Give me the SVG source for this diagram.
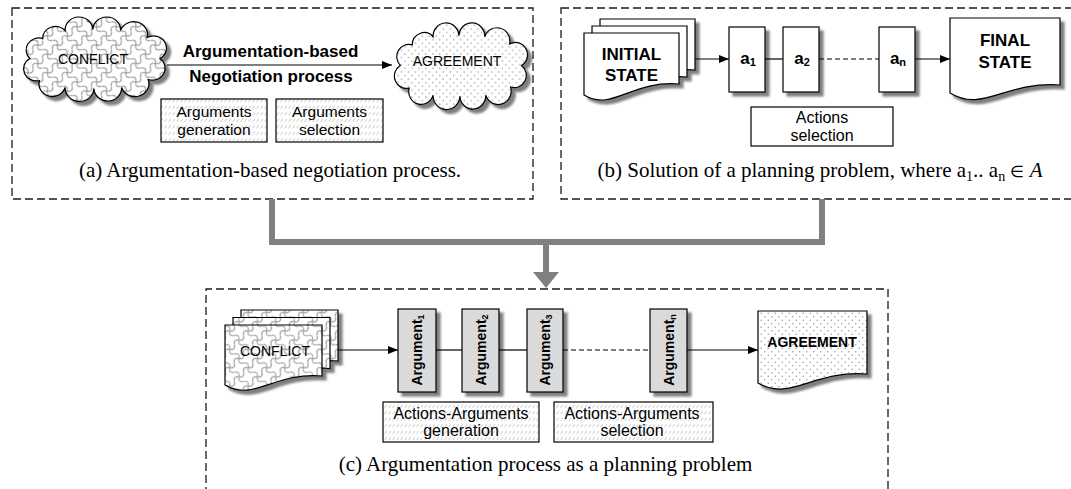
<svg xmlns="http://www.w3.org/2000/svg" width="1071" height="489" viewBox="0 0 1071 489">
<style>
.bd{fill:none;stroke:#1a1a1a;stroke-width:1.3;stroke-dasharray:8 4}
.ln{stroke:#000;stroke-width:1.2;fill:none}
.dl{stroke-dasharray:5 3}
.ar{marker-end:url(#ah)}
.bx{stroke:#000;stroke-width:1.2}
.t{font-family:"Liberation Sans",Arial,sans-serif;fill:#000}
.b{font-weight:bold}
.cap{font-family:"Liberation Serif","Times New Roman",serif;font-size:21px;fill:#000}
.gc{stroke:#808080;stroke-width:6;fill:none}
</style>
<defs>
<marker id="ah" markerUnits="userSpaceOnUse" markerWidth="10" markerHeight="8" refX="10" refY="4" orient="auto"><path d="M0,0 L10,4 L0,8 Z" fill="#000"/></marker>
<filter id="sh" x="-10%" y="-10%" width="130%" height="140%">
<feGaussianBlur in="SourceAlpha" stdDeviation="1.2" result="b"/>
<feOffset in="b" dx="4" dy="4" result="o"/>
<feFlood flood-color="#000" flood-opacity="0.5"/>
<feComposite in2="o" operator="in" result="s"/>
<feMerge><feMergeNode in="s"/><feMergeNode in="SourceGraphic"/></feMerge>
</filter>
<pattern id="diag" width="4" height="6.5" patternUnits="userSpaceOnUse">
<rect width="4" height="6.5" fill="#fff"/>
<path d="M0.6,4.8 L2.8,1.8" stroke="#b8b8b8" stroke-width="0.8"/>
</pattern>
<pattern id="dots" width="7" height="7" patternUnits="userSpaceOnUse">
<rect width="7" height="7" fill="#fff"/>
<circle cx="1.75" cy="1.75" r="0.75" fill="#999"/>
<circle cx="5.25" cy="5.25" r="0.75" fill="#999"/>
</pattern>
<pattern id="wave" width="13" height="13" patternUnits="userSpaceOnUse" patternTransform="rotate(45)">
<rect width="13" height="13" fill="#fff"/>
<path d="M0,6.5 Q3.25,1.5 6.5,6.5 T13,6.5 M6.5,0 Q11.5,3.25 6.5,6.5 T6.5,13" stroke="#9a9a9a" stroke-width="1.1" fill="none"/>
</pattern>
<path id="cloud" d="M20,63 A12,12 0 0 1 11,41 A12,12 0 0 1 23,21 A12,12 0 0 1 44,13 A13,13 0 0 1 70,12 A13,13 0 0 1 96,13 A13,13 0 0 1 121,20 A12,12 0 0 1 133,41 A12,12 0 0 1 122,62 A13,13 0 0 1 97,70 A13,13 0 0 1 71,71 A13,13 0 0 1 44,70 A12,12 0 0 1 20,63 Z"/>
</defs>

<g id="panels">
<rect class="bd" x="12" y="8" width="521" height="191"/>
<rect class="bd" x="561" y="8" width="520" height="191"/>
<path class="bd" d="M206,495 V289 H888 V495"/>
</g>

<g id="connectors">
<path class="ln ar" d="M167,65 H392"/>
<path class="ln ar" d="M695,59 H729"/>
<path class="ln" d="M765,59 H783"/>
<path class="ln dl" d="M819,59 H879"/>
<path class="ln ar" d="M915,59 H950"/>
<path class="ln ar" d="M338,350 H398"/>
<path class="ln" d="M436,350 H462"/>
<path class="ln" d="M499,350 H527"/>
<path class="ln dl" d="M563,350 H650"/>
<path class="ln ar" d="M687,350 H758"/>
<path class="gc" d="M272,199 V242 H822 V199"/>
<path class="gc" d="M546,242 V273"/>
<polygon points="533,272 559,272 546,288" fill="#808080"/>
</g>

<g id="conflict-cloud">
<use href="#cloud" transform="translate(18.2,17.5) scale(1.066,1)" fill="url(#wave)" stroke="#000" stroke-width="1.2" filter="url(#sh)"/>
<text class="t" x="93" y="64" font-size="14" text-anchor="middle">CONFLICT</text>
</g>

<g id="process-label">
<text class="t b" x="270.5" y="57" font-size="17" text-anchor="middle">Argumentation-based</text>
<text class="t b" x="271" y="82" font-size="17" text-anchor="middle">Negotiation process</text>
</g>

<g id="agreement-cloud">
<use href="#cloud" transform="translate(389.4,23.5) scale(0.993,1.024)" fill="url(#dots)" stroke="#000" stroke-width="1.2" filter="url(#sh)"/>
<text class="t" x="457" y="66" font-size="14" text-anchor="middle">AGREEMENT</text>
</g>

<g id="args-generation">
<rect class="bx" x="161" y="99" width="106" height="43" fill="url(#diag)"/>
<text class="t" x="214" y="117" font-size="15.5" text-anchor="middle">Arguments</text>
<text class="t" x="214" y="135" font-size="15.5" text-anchor="middle">generation</text>
</g>

<g id="args-selection">
<rect class="bx" x="276" y="99" width="107" height="43" fill="url(#diag)"/>
<text class="t" x="329.5" y="117" font-size="15.5" text-anchor="middle">Arguments</text>
<text class="t" x="329.5" y="135" font-size="15.5" text-anchor="middle">selection</text>
</g>

<g id="caption-a">
<text class="cap" x="270" y="177" text-anchor="middle">(a) Argumentation-based negotiation process.</text>
</g>

<g id="initial-state">
<g filter="url(#sh)" fill="#fff" stroke="#000" stroke-width="1.2">
<path d="M600,19 H695 V70 C647.5,66 628.5,98 600,81 Z"/>
<path d="M592,26 H687 V77 C639.5,73 620.5,105 592,88 Z"/>
<path d="M584,33 H679 V84 C631.5,80 612.5,112 584,95 Z"/>
</g>
<text class="t b" x="631.5" y="59.5" font-size="17" text-anchor="middle">INITIAL</text>
<text class="t b" x="631.5" y="81" font-size="17" text-anchor="middle">STATE</text>
</g>

<g id="a1">
<rect class="bx" x="729" y="27" width="36" height="65" fill="#fff" filter="url(#sh)"/>
<text class="t b" x="748" y="64" font-size="17" text-anchor="middle">a<tspan font-size="11" dy="2">1</tspan></text>
</g>
<g id="a2">
<rect class="bx" x="783" y="27" width="36" height="65" fill="#fff" filter="url(#sh)"/>
<text class="t b" x="802" y="64" font-size="17" text-anchor="middle">a<tspan font-size="11" dy="2">2</tspan></text>
</g>
<g id="an">
<rect class="bx" x="879" y="27" width="36" height="65" fill="#fff" filter="url(#sh)"/>
<text class="t b" x="898" y="64" font-size="17" text-anchor="middle">a<tspan font-size="11" dy="2">n</tspan></text>
</g>

<g id="final-state">
<path d="M950,18 H1060 V85 C1005,81 983,113 950,93 Z" fill="#fff" stroke="#000" stroke-width="1.2" filter="url(#sh)"/>
<text class="t b" x="1005" y="46" font-size="17" text-anchor="middle">FINAL</text>
<text class="t b" x="1005" y="68" font-size="17" text-anchor="middle">STATE</text>
</g>

<g id="actions-selection">
<rect class="bx" x="751" y="107" width="142" height="39" fill="#fff"/>
<text class="t" x="822" y="123" font-size="16" text-anchor="middle">Actions</text>
<text class="t" x="822" y="141" font-size="16" text-anchor="middle">selection</text>
</g>

<g id="caption-b">
<text class="cap" x="820" y="177" text-anchor="middle">(b) Solution of a planning problem, where a<tspan font-size="14" dy="4">1</tspan><tspan dy="-4">.. a</tspan><tspan font-size="14" dy="4">n</tspan><tspan dy="-4"> </tspan><tspan font-size="16">∈</tspan><tspan> </tspan><tspan font-style="italic">A</tspan></text>
</g>

<g id="conflict-doc">
<g filter="url(#sh)" fill="url(#wave)" stroke="#000" stroke-width="1.2">
<path d="M241,310 H338 V361 C289.5,357 270.1,387 241,370 Z"/>
<path d="M233,317.5 H330 V368.5 C281.5,364.5 262.1,394.5 233,377.5 Z"/>
<path d="M225,325 H322 V376 C273.5,372 254.1,402 225,385 Z"/>
</g>
<text class="t" x="275" y="356" font-size="14" text-anchor="middle">CONFLICT</text>
</g>

<g id="argument1">
<rect class="bx" x="398" y="309" width="38" height="83" fill="#dadada" filter="url(#sh)"/>
<text class="t b" font-size="14" text-anchor="middle" transform="translate(422,350) rotate(-90)">Argument<tspan font-size="9" dy="2">1</tspan></text>
</g>
<g id="argument2">
<rect class="bx" x="462" y="309" width="37" height="83" fill="#dadada" filter="url(#sh)"/>
<text class="t b" font-size="14" text-anchor="middle" transform="translate(485.5,350) rotate(-90)">Argument<tspan font-size="9" dy="2">2</tspan></text>
</g>
<g id="argument3">
<rect class="bx" x="527" y="309" width="36" height="83" fill="#dadada" filter="url(#sh)"/>
<text class="t b" font-size="14" text-anchor="middle" transform="translate(550,350) rotate(-90)">Argument<tspan font-size="9" dy="2">3</tspan></text>
</g>
<g id="argumentn">
<rect class="bx" x="650" y="309" width="37" height="83" fill="#dadada" filter="url(#sh)"/>
<text class="t b" font-size="14" text-anchor="middle" transform="translate(673.5,350) rotate(-90)">Argument<tspan font-size="9" dy="2">n</tspan></text>
</g>

<g id="agreement-doc">
<path d="M758,311 H867 V374 C812.5,370 790.7,402 758,383 Z" fill="url(#dots)" stroke="#000" stroke-width="1.2" filter="url(#sh)"/>
<text class="t b" x="812" y="347" font-size="14" text-anchor="middle">AGREEMENT</text>
</g>

<g id="aa-generation">
<rect class="bx" x="383" y="402" width="156" height="40" fill="url(#diag)"/>
<text class="t" x="461" y="419" font-size="16" text-anchor="middle">Actions-Arguments</text>
<text class="t" x="461" y="436" font-size="16" text-anchor="middle">generation</text>
</g>
<g id="aa-selection">
<rect class="bx" x="554" y="402" width="159" height="40" fill="url(#diag)"/>
<text class="t" x="632" y="419" font-size="16" text-anchor="middle">Actions-Arguments</text>
<text class="t" x="632" y="436" font-size="16" text-anchor="middle">selection</text>
</g>

<g id="caption-c">
<text class="cap" x="545.5" y="471" text-anchor="middle">(c) Argumentation process as a planning problem</text>
</g>
</svg>
